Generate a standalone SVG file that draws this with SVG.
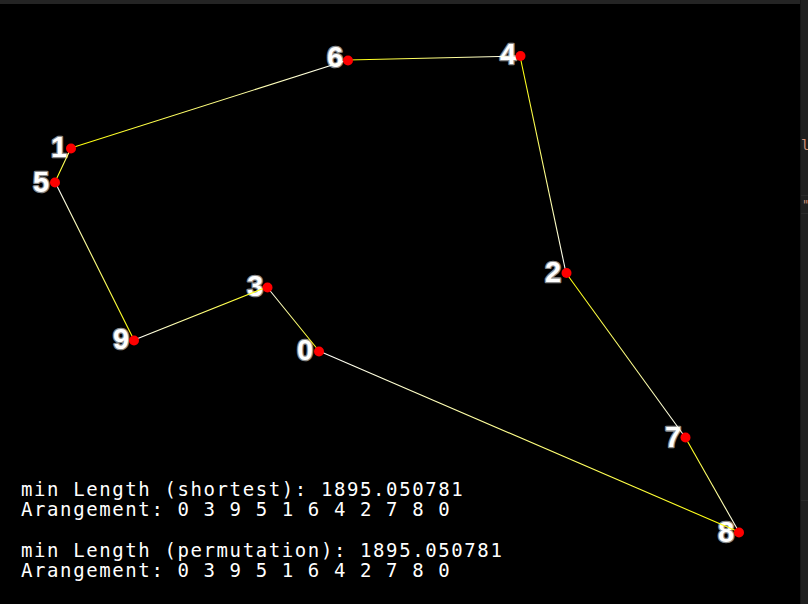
<svg xmlns="http://www.w3.org/2000/svg" width="808" height="604" viewBox="0 0 808 604">
<style>
.lbl{font-family:"Liberation Sans",Arial,sans-serif;font-weight:bold;font-size:29px;fill:#ffffff;stroke:#8a8a8a;stroke-width:2.6;stroke-linejoin:round;text-anchor:middle;paint-order:stroke}
.dot{fill:#ff0000}
.edge{stroke-width:1.1;fill:none}
.info{font-family:"DejaVu Sans Mono","Liberation Mono",monospace;font-size:19px;letter-spacing:1.6px;fill:#ffffff}
</style>
<defs>
<linearGradient id="g08" gradientUnits="userSpaceOnUse" x1="319" y1="351" x2="739" y2="532"><stop offset="0" stop-color="#ffffff"/><stop offset="1" stop-color="#ffff00"/></linearGradient>
<linearGradient id="g87" gradientUnits="userSpaceOnUse" x1="739" y1="532" x2="685" y2="437"><stop offset="0" stop-color="#ffffff"/><stop offset="1" stop-color="#ffff00"/></linearGradient>
<linearGradient id="g72" gradientUnits="userSpaceOnUse" x1="685" y1="437" x2="566" y2="273"><stop offset="0" stop-color="#ffffff"/><stop offset="1" stop-color="#ffff00"/></linearGradient>
<linearGradient id="g24" gradientUnits="userSpaceOnUse" x1="566" y1="273" x2="520" y2="56"><stop offset="0" stop-color="#ffffff"/><stop offset="1" stop-color="#ffff00"/></linearGradient>
<linearGradient id="g46" gradientUnits="userSpaceOnUse" x1="520" y1="56" x2="348" y2="60"><stop offset="0" stop-color="#ffffff"/><stop offset="1" stop-color="#ffff00"/></linearGradient>
<linearGradient id="g61" gradientUnits="userSpaceOnUse" x1="348" y1="60" x2="71" y2="148"><stop offset="0" stop-color="#ffffff"/><stop offset="1" stop-color="#ffff00"/></linearGradient>
<linearGradient id="g15" gradientUnits="userSpaceOnUse" x1="71" y1="148" x2="55" y2="182"><stop offset="0" stop-color="#ffffa0"/><stop offset="1" stop-color="#ffff00"/></linearGradient>
<linearGradient id="g59" gradientUnits="userSpaceOnUse" x1="55" y1="182" x2="134" y2="340"><stop offset="0" stop-color="#ffffff"/><stop offset="1" stop-color="#ffff00"/></linearGradient>
<linearGradient id="g93" gradientUnits="userSpaceOnUse" x1="134" y1="340" x2="267" y2="287"><stop offset="0" stop-color="#ffffff"/><stop offset="1" stop-color="#ffff00"/></linearGradient>
<linearGradient id="g30" gradientUnits="userSpaceOnUse" x1="267" y1="287" x2="319" y2="351"><stop offset="0" stop-color="#ffffff"/><stop offset="1" stop-color="#ffff00"/></linearGradient>
</defs>
<rect x="0" y="0" width="808" height="604" fill="#000000"/>
<rect x="0" y="0" width="800" height="4" fill="#242424"/>
<rect x="800" y="0" width="8" height="604" fill="#1f1f1f"/>
<rect x="800" y="0" width="1" height="604" fill="#161616"/>
<rect x="801" y="195" width="7" height="1" fill="#2a2a2a"/>
<rect x="801" y="213" width="7" height="1" fill="#2a2a2a"/>
<rect x="801" y="500" width="7" height="1" fill="#2a2a2a"/>
<text x="801" y="150" font-family="DejaVu Sans Mono, monospace" font-size="14" fill="#ce9178">l</text>
<text x="802" y="209" font-family="DejaVu Sans Mono, monospace" font-size="12" fill="#ce9178">"</text>

<g id="labels">
<g id="node-0"><text class="lbl" x="305" y="360">0</text></g>
<g id="node-1"><text class="lbl" x="59" y="157">1</text></g>
<g id="node-2"><text class="lbl" x="553" y="282">2</text></g>
<g id="node-3"><text class="lbl" x="255" y="296">3</text></g>
<g id="node-4"><text class="lbl" x="508" y="64">4</text></g>
<g id="node-5"><text class="lbl" x="41" y="192">5</text></g>
<g id="node-6"><text class="lbl" x="335" y="67">6</text></g>
<g id="node-7"><text class="lbl" x="673" y="447">7</text></g>
<g id="node-8"><text class="lbl" x="726" y="542">8</text></g>
<g id="node-9"><text class="lbl" x="121" y="349">9</text></g>
</g>

<g id="connectors">
<line class="edge" stroke="url(#g08)" x1="319" y1="351" x2="739" y2="532"/>
<line class="edge" stroke="url(#g87)" x1="739" y1="532" x2="685" y2="437"/>
<line class="edge" stroke="url(#g72)" x1="685" y1="437" x2="566" y2="273"/>
<line class="edge" stroke="url(#g24)" x1="566" y1="273" x2="520" y2="56"/>
<line class="edge" stroke="url(#g46)" x1="520" y1="56" x2="348" y2="60"/>
<line class="edge" stroke="url(#g61)" x1="348" y1="60" x2="71" y2="148"/>
<line class="edge" stroke="url(#g15)" x1="71" y1="148" x2="55" y2="182"/>
<line class="edge" stroke="url(#g59)" x1="55" y1="182" x2="134" y2="340"/>
<line class="edge" stroke="url(#g93)" x1="134" y1="340" x2="267" y2="287"/>
<line class="edge" stroke="url(#g30)" x1="267" y1="287" x2="319" y2="351"/>
</g>

<g id="dots">
<circle class="dot" cx="319" cy="351.5" r="5"/>
<circle class="dot" cx="71" cy="148.5" r="5"/>
<circle class="dot" cx="566.5" cy="273" r="5"/>
<circle class="dot" cx="267.5" cy="287.5" r="5"/>
<circle class="dot" cx="520.5" cy="56" r="5"/>
<circle class="dot" cx="55" cy="182.5" r="5"/>
<circle class="dot" cx="348" cy="60.5" r="5"/>
<circle class="dot" cx="685.5" cy="437.5" r="5"/>
<circle class="dot" cx="739" cy="532.5" r="5"/>
<circle class="dot" cx="134" cy="340.5" r="5"/>
</g>

<g id="info">
<text class="info" x="21" y="496">min Length (shortest): 1895.050781</text>
<text class="info" x="21" y="516">Arangement: 0 3 9 5 1 6 4 2 7 8 0</text>
<text class="info" x="21" y="557">min Length (permutation): 1895.050781</text>
<text class="info" x="21" y="577">Arangement: 0 3 9 5 1 6 4 2 7 8 0</text>
</g>
</svg>
